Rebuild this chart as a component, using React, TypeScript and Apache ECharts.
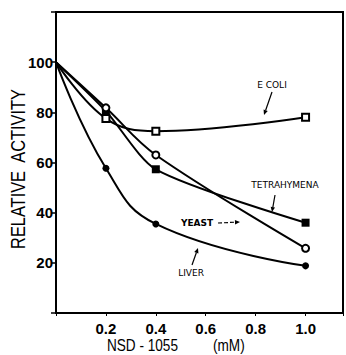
import React, { useEffect, useRef } from "react";
import * as echarts from "echarts";

const conc = [0, 0.2, 0.4, 1.0];
const ecoli = [100, 77.5, 72.5, 78];
const tetrahymena = [100, 80.5, 57.3, 36];
const yeast = [100, 81.8, 63, 25.8];
const liver = [100, 57.7, 35.5, 18.8];
const yTicks = [20, 40, 60, 80, 100];
const xTicks = [0.2, 0.4, 0.6, 0.8, 1.0];

const SANS = "'Liberation Sans', Arial, sans-serif";

function arrow(x1: number, y1: number, x2: number, y2: number, dashed = false) {
  const dx = x2 - x1, dy = y2 - y1;
  const len = Math.sqrt(dx * dx + dy * dy);
  const ux = dx / len, uy = dy / len;
  const px = -uy, py = ux;
  const hl = 5, hw = 2.2;
  const bx = x2 - ux * hl, by = y2 - uy * hl;
  return [
    {
      type: "line",
      shape: { x1, y1, x2: bx, y2: by },
      style: { stroke: "#000", lineWidth: 1.2, lineDash: dashed ? [4, 2] : null },
      silent: true,
    },
    {
      type: "polygon",
      shape: { points: [[x2, y2], [bx + px * hw, by + py * hw], [bx - px * hw, by - py * hw]] },
      style: { fill: "#000" },
      silent: true,
    },
  ];
}

function mk(vals: number[], symbol: string, size: number, filled: boolean) {
  return conc.map((c, i) =>
    i === 0
      ? { value: [c, vals[i]], symbol: "none" }
      : {
          value: [c, vals[i]],
          symbol,
          symbolSize: size,
          itemStyle: { color: filled ? "#000" : "#fff", borderColor: "#000", borderWidth: filled ? 0 : 2 },
        }
  );
}

export default function App() {
  const ref = useRef<HTMLDivElement>(null);
  useEffect(() => {
    document.body.style.margin = "0";
    const chart = echarts.init(ref.current!, null, { renderer: "svg" });
    const lineStyle = { color: "#000", width: 2 };
    chart.setOption({
      animation: false,
      backgroundColor: "#fff",
      grid: { left: 56, top: 12, right: -2, bottom: 42, show: true, borderColor: "#000", borderWidth: 2 },
      xAxis: {
        type: "value",
        min: 0,
        max: 1.15,
        interval: 0.2,
        axisLine: { show: true, lineStyle: { color: "#000", width: 2 } },
        axisTick: { show: true, length: 3, lineStyle: { color: "#000", width: 1 } },
        splitLine: { show: false },
        axisLabel: {
          margin: 8,
          color: "#000",
          fontFamily: SANS,
          fontWeight: "bold",
          fontSize: 15,
          formatter: (v: number) => (xTicks.some((t) => Math.abs(t - v) < 1e-6) ? v.toFixed(1) : ""),
        },
      },
      yAxis: {
        type: "value",
        min: 0,
        max: 120,
        interval: 20,
        axisLine: { show: true, lineStyle: { color: "#000", width: 2 } },
        axisTick: { show: true, length: 5, lineStyle: { color: "#000", width: 1.5 } },
        splitLine: { show: false },
        axisLabel: {
          margin: 3,
          color: "#000",
          fontFamily: SANS,
          fontWeight: "bold",
          fontSize: 15,
          formatter: (v: number) => (yTicks.includes(v) ? String(v) : ""),
        },
      },
      series: [
        { name: "E COLI", type: "line", smooth: 0.4, data: mk(ecoli, "rect", 7, false), lineStyle },
        { name: "TETRAHYMENA", type: "line", smooth: 0.25, data: mk(tetrahymena, "rect", 8, true), lineStyle },
        { name: "YEAST", type: "line", smooth: 0.35, data: mk(yeast, "circle", 7, false), lineStyle },
        { name: "LIVER", type: "line", smooth: 0.45, data: mk(liver, "circle", 7, true), lineStyle },
      ],
      graphic: [
        {
          type: "text",
          x: 18,
          y: 169,
          rotation: Math.PI / 2,
          scaleX: 0.82,
          style: {
            text: "RELATIVE  ACTIVITY",
            font: `20px ${SANS}`,
            fill: "#000",
            align: "center",
            verticalAlign: "middle",
          },
        },
        {
          type: "text",
          x: 107,
          y: 346,
          scaleX: 0.85,
          style: { text: "NSD - 1055", font: `16px ${SANS}`, fill: "#000", align: "left", verticalAlign: "middle" },
        },
        {
          type: "text",
          x: 213,
          y: 346,
          scaleX: 0.85,
          style: { text: "(mM)", font: `16px ${SANS}`, fill: "#000", align: "left", verticalAlign: "middle" },
        },
        { type: "text", x: 272, y: 85, style: { text: "E COLI", font: "9px 'DejaVu Sans', sans-serif", fill: "#000", align: "center", verticalAlign: "middle" } },
        { type: "text", x: 285, y: 185, style: { text: "TETRAHYMENA", font: "9px 'DejaVu Sans', sans-serif", fill: "#000", align: "center", verticalAlign: "middle" } },
        { type: "text", x: 197, y: 223, style: { text: "YEAST", font: "bold 9px 'DejaVu Sans', sans-serif", fill: "#000", align: "center", verticalAlign: "middle" } },
        { type: "text", x: 191, y: 273, style: { text: "LIVER", font: "9px 'DejaVu Sans', sans-serif", fill: "#000", align: "center", verticalAlign: "middle" } },
        ...arrow(272, 92, 264, 115),
        ...arrow(275, 195, 272, 212),
        ...arrow(218, 223, 240, 222, true),
        ...arrow(192, 265, 198, 248),
      ],
    });
    return () => chart.dispose();
  }, []);
  return <div ref={ref} style={{ width: 346, height: 355 }} />;
}
